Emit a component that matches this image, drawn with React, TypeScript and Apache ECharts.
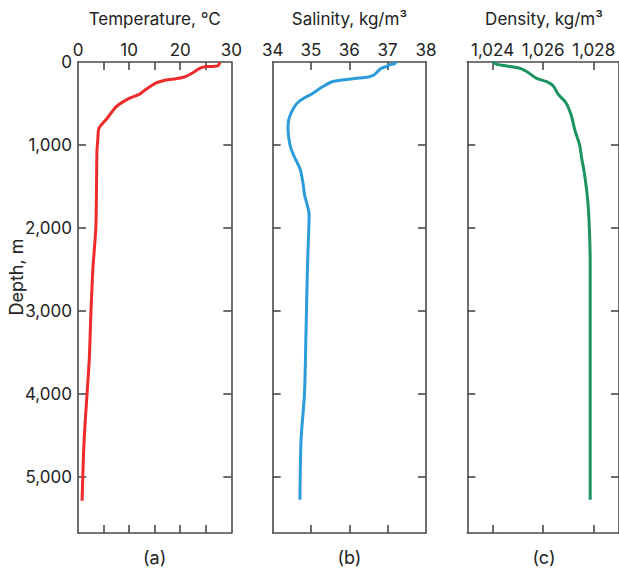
import React, { useEffect, useRef } from 'react';
import * as echarts from 'echarts';

// Temperature profile (°C vs depth m)
const tempDepth = [5, 45, 53, 55, 77, 129, 181, 201, 217, 253, 330, 390, 439, 543, 672, 800, 913, 1094, 1983, 2505, 3069, 3590, 4556, 5292];
const tempValue = [27.8, 27.4, 26.4, 25.1, 23.8, 22.5, 20.8, 19.2, 17.2, 15.3, 13.3, 12.0, 10.0, 7.4, 5.8, 4.1, 3.9, 3.7, 3.5, 2.9, 2.5, 2.2, 1.2, 0.8];

// Salinity profile (kg/m3 vs depth m)
const salDepth = [0, 20, 36, 60, 77, 109, 161, 181, 198, 217, 238, 302, 382, 463, 551, 692, 813, 998, 1118, 1299, 1460, 1597, 1842, 2425, 3229, 3993, 4556, 5280];
const salValue = [37.22, 37.18, 37.04, 36.94, 36.83, 36.75, 36.63, 36.5, 36.15, 35.81, 35.55, 35.29, 35.03, 34.72, 34.55, 34.42, 34.4, 34.45, 34.54, 34.72, 34.79, 34.83, 34.95, 34.91, 34.87, 34.83, 34.74, 34.71];

// Density profile (kg/m3 vs depth m)
const denDepth = [0, 29, 48, 77, 129, 198, 238, 290, 390, 491, 651, 817, 998, 1154, 1339, 1661, 2023, 2425, 5280];
const denValue = [1024.01, 1024.17, 1024.56, 1025.09, 1025.42, 1025.74, 1026.14, 1026.4, 1026.6, 1026.9, 1027.12, 1027.25, 1027.44, 1027.52, 1027.63, 1027.76, 1027.83, 1027.86, 1027.86];

const depthTicks = [1000, 2000, 3000, 4000, 5000];
const depthLabels = [0, 1000, 2000, 3000, 4000, 5000];
const tempLabels = [0, 10, 20, 30];
const tempTicks = [5, 10, 15, 20, 25];
const salLabels = [34, 35, 36, 37, 38];
const salTicks = [35, 36, 37];
const denLabels = [1024, 1026, 1028];
const denTicks = [1024, 1026, 1028];

const panelTitles = ['Temperature, °C', 'Salinity, kg/m³', 'Density, kg/m³'];
const panelTags = ['(a)', '(b)', '(c)'];
const depthName = 'Depth, m';

export default function App() {
  const ref = useRef<HTMLDivElement>(null);
  useEffect(() => {
    if (!ref.current) return;
    const chart = echarts.init(ref.current, undefined, { renderer: 'svg' });
    const font = 'Inter';
    const txt = '#222';
    const axisCol = '#4a4a4a';
    const lefts = [78, 272.7, 467.3];
    const W = 153.3;
    const top = 62;
    const H = 471;
    const depthMax = 5680;
    const ranges = [[0, 30], [34, 38], [1023, 1029]];
    const labelVals = [tempLabels, salLabels, denLabels];
    const tickVals = [tempTicks, salTicks, denTicks];
    const colors = ['#ee2b2b', '#2b9bd9', '#1b9461'];
    const seriesData = [
      tempDepth.map((d, i) => [tempValue[i], d]),
      salDepth.map((d, i) => [salValue[i], d]),
      denDepth.map((d, i) => [denValue[i], d]),
    ];
    const fmt = (v: number) => Number(v).toLocaleString('en-US');
    const tickStyle = { color: axisCol, width: 1.6 };
    const line = { show: true, onZero: false, lineStyle: { color: axisCol, width: 1.6 } };

    const grid: any[] = [];
    const xAxis: any[] = [];
    const yAxis: any[] = [];
    const series: any[] = [];
    const graphic: any[] = [];
    for (let i = 0; i < 3; i++) {
      grid.push({ left: lefts[i], top, width: W, height: H });
      xAxis.push({
        type: 'value', gridIndex: i, position: 'top', min: ranges[i][0], max: ranges[i][1],
        axisLine: line, splitLine: { show: false },
        axisTick: { show: true, inside: true, length: 8, customValues: tickVals[i], lineStyle: tickStyle },
        axisLabel: { show: true, customValues: labelVals[i], formatter: fmt, fontSize: 17, color: txt, fontFamily: font, margin: 4 },
      });
      xAxis.push({
        type: 'value', gridIndex: i, position: 'bottom', min: ranges[i][0], max: ranges[i][1],
        axisLine: line, splitLine: { show: false },
        axisTick: { show: true, inside: true, length: 8, customValues: tickVals[i], lineStyle: tickStyle },
        axisLabel: { show: false },
      });
      yAxis.push({
        type: 'value', gridIndex: i, position: 'left', inverse: true, min: 0, max: depthMax,
        axisLine: line, splitLine: { show: false },
        axisTick: { show: true, inside: true, length: 8, customValues: depthTicks, lineStyle: tickStyle },
        axisLabel: { show: i === 0, customValues: depthLabels, formatter: fmt, fontSize: 17, color: txt, fontFamily: font, margin: 6 },
      });
      yAxis.push({
        type: 'value', gridIndex: i, position: 'right', inverse: true, min: 0, max: depthMax,
        axisLine: line, splitLine: { show: false },
        axisTick: { show: true, inside: true, length: 8, customValues: depthTicks, lineStyle: tickStyle },
        axisLabel: { show: false },
      });
      series.push({
        type: 'line', xAxisIndex: 2 * i, yAxisIndex: 2 * i, data: seriesData[i],
        symbol: 'none', smooth: 0.25, lineStyle: { color: colors[i], width: 3 },
      });
      graphic.push({
        type: 'text', x: lefts[i] + W / 2, y: 19,
        style: { text: panelTitles[i], align: 'center', verticalAlign: 'middle', fontSize: 17, fontFamily: font, fill: txt },
      });
      graphic.push({
        type: 'text', x: lefts[i] + W / 2, y: 557,
        style: { text: panelTags[i], align: 'center', verticalAlign: 'middle', fontSize: 18, fontFamily: font, fill: txt },
      });
    }
    graphic.push({
      type: 'text', x: 16, y: 277, rotation: Math.PI / 2,
      style: { text: depthName, align: 'center', verticalAlign: 'middle', fontSize: 18, fontFamily: font, fill: txt },
    });

    chart.setOption({
      animation: false,
      backgroundColor: '#fff',
      grid, xAxis, yAxis, series, graphic,
    });
    return () => chart.dispose();
  }, []);
  return <div ref={ref} style={{ position: 'fixed', left: 0, top: 0, width: 619, height: 571 }} />;
}
